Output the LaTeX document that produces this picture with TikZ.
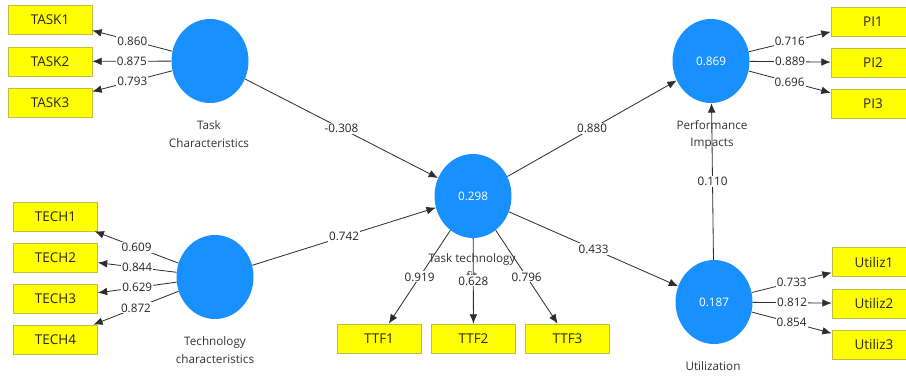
\documentclass[tikz,border=0pt]{standalone}
\usepackage{fontspec}
\setmainfont{Open Sans}
\usetikzlibrary{arrows.meta,shapes.geometric}
\definecolor{latentblue}{RGB}{24,144,255}
\definecolor{itemyellow}{RGB}{255,255,0}
\definecolor{itemborder}{RGB}{190,190,70}
\definecolor{linkgray}{RGB}{45,45,45}

\begin{document}
\begin{tikzpicture}[x=0.03cm,y=-0.03cm]
\tikzstyle{latent}=[ellipse,fill=latentblue,minimum width=2.31cm,minimum height=2.52cm,inner sep=0pt,text=white,font=\fontsize{10}{12}\selectfont]
\tikzstyle{item}=[rectangle,fill=itemyellow,draw=itemborder,line width=0.6pt,minimum width=2.52cm,minimum height=0.87cm,inner sep=0pt,text=black!85,font=\fontsize{11.5}{13}\selectfont]
\tikzstyle{latname}=[align=center,text=black!80,font=\fontsize{10}{15}\selectfont]
\tikzstyle{link}=[draw=linkgray,line width=0.7pt,-{Latex[length=2.8mm,width=2.3mm]}]
\tikzstyle{coef}=[fill=white,inner sep=1pt,text=black!85,font=\fontsize{10}{12}\selectfont]
\useasboundingbox (0,0) rectangle (906,376);
\clip (0,0) rectangle (906,376);

\node[latent] (taskc) at (210,61) {};
\node[latent] (tech) at (215,277) {};
\node[latent] (ttf) at (473,196) {0.298};
\node[latent] (pi) at (711,61) {0.869};
\node[latent] (util) at (714,302) {0.187};

\node[latname] (taskcname) at (209,134) {Task\\Characteristics};
\node[latname] (techname) at (215,350) {Technology\\characteristics};
\node[latname] (ttfname) at (472,267) {Task technology\\fit};
\node[latname] (piname) at (712,135) {Performance\\Impacts};
\node[latname] (utilname) at (713,366) {Utilization};

\node[item] (task1) at (50,19.5) {TASK1};
\node[item] (task2) at (50,61.5) {TASK2};
\node[item] (task3) at (50,102.5) {TASK3};
\node[item] (tech1) at (55.5,216.5) {TECH1};
\node[item] (tech2) at (55.5,257.5) {TECH2};
\node[item] (tech3) at (55.5,298.5) {TECH3};
\node[item] (tech4) at (55.5,339.5) {TECH4};
\node[item] (ttf1) at (379,338.5) {TTF1};
\node[item] (ttf2) at (473.5,338.5) {TTF2};
\node[item] (ttf3) at (567.5,338.5) {TTF3};
\node[item] (pi1) at (873,21.5) {PI1};
\node[item] (pi2) at (873,62.5) {PI2};
\node[item] (pi3) at (873,104) {PI3};
\node[item] (util1) at (874,262) {Utiliz1};
\node[item] (util2) at (874,303.5) {Utiliz2};
\node[item] (util3) at (874,344.5) {Utiliz3};

\draw[link] (taskc) -- node[coef] {0.860} (task1);
\draw[link] (taskc) -- node[coef] {0.875} (task2);
\draw[link] (taskc) -- node[coef] {0.793} (task3);
\draw[link] (tech) -- node[coef] {0.609} (tech1);
\draw[link] (tech) -- node[coef] {0.844} (tech2);
\draw[link] (tech) -- node[coef] {0.629} (tech3);
\draw[link] (tech) -- node[coef] {0.872} (tech4);
\draw[link] (ttf) -- node[coef] {0.919} (ttf1);
\draw[link] (ttf) -- node[coef] {0.628} (ttf2);
\draw[link] (ttf) -- node[coef] {0.796} (ttf3);
\draw[link] (pi) -- node[coef] {0.716} (pi1);
\draw[link] (pi) -- node[coef] {0.889} (pi2);
\draw[link] (pi) -- node[coef] {0.696} (pi3);
\draw[link] (util) -- node[coef] {0.733} (util1);
\draw[link] (util) -- node[coef] {0.812} (util2);
\draw[link] (util) -- node[coef] {0.854} (util3);

\draw[link] (taskc) -- node[coef] {-0.308} (ttf);
\draw[link] (tech) -- node[coef] {0.742} (ttf);
\draw[link] (ttf) -- node[coef] {0.880} (pi);
\draw[link] (ttf) -- node[coef] {0.433} (util);
\draw[link] (util) -- node[coef] {0.110} (pi);
\end{tikzpicture}
\end{document}
